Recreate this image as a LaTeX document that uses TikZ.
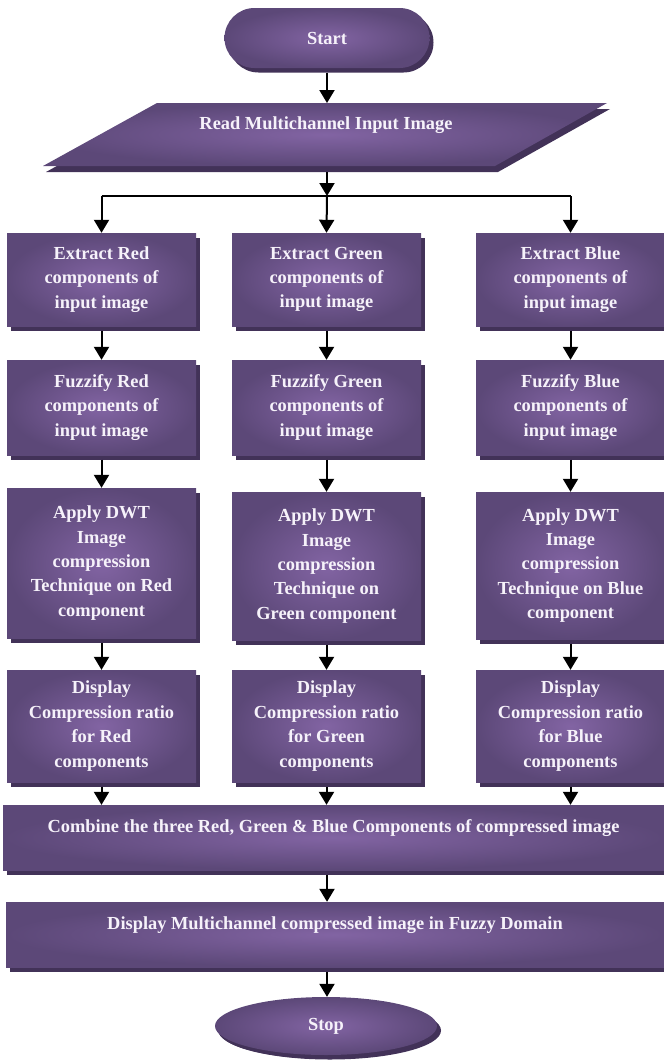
\documentclass[tikz,border=0pt]{standalone}
\usepackage{fontspec}
\setmainfont{Liberation Serif}
\usetikzlibrary{shapes.geometric,shadows,arrows.meta}

\definecolor{boxin}{RGB}{130,100,163}
\definecolor{boxout}{RGB}{92,72,120}
\definecolor{boxshade}{RGB}{66,50,88}
\definecolor{boxtext}{RGB}{246,242,250}

\tikzset{
  label font/.style={text=boxtext, align=center, font=\bfseries\fontsize{18.4}{24.4}\selectfont},
  base/.style={inner color=boxin, outer color=boxout, label font,
    drop shadow={shadow xshift=4pt, shadow yshift=-4.5pt, fill=boxshade, opacity=1}},
  process/.style={base, rectangle, minimum width=189pt},
  wide/.style={base, rectangle, minimum height=65pt, text height=13pt, text depth=24pt},
  terminal/.style={base, rectangle, rounded corners=30pt, minimum width=205pt, minimum height=60pt},
  io/.style={inner color=boxin, outer color=boxout,
    drop shadow={shadow xshift=3pt, shadow yshift=-6pt, fill=boxshade, opacity=1}},
  arr/.style={line width=2pt, -{Triangle[width=15pt,length=13pt]}},
  gap/.style={shorten <=4.5pt}
}

\begin{document}
\begin{tikzpicture}[x=1pt,y=-1pt]
\useasboundingbox (0,0) rectangle (664,1061);

\node[terminal] (start) at (327,38) {Start};

% input parallelogram
\coordinate (rdBL) at (43,166);
\coordinate (rdTL) at (157,103);
\coordinate (rdTR) at (607,103);
\coordinate (rdBR) at (495,166);
\path[io] (rdBL) -- (rdTL) -- (rdTR) -- (rdBR) -- cycle;
\node[label font] (read) at (326,125) {Read Multichannel Input Image};
\coordinate (split) at (327,196);

% red column
\node[process, minimum height=93pt] (extR) at (101.5,279.5) {Extract Red\\components of\\input image};
\node[process, minimum height=95pt] (fuzR) at (101.5,407.5) {Fuzzify Red\\components of\\input image};
\node[process, minimum height=150pt] (dwtR) at (101.5,563) {Apply DWT\\Image\\compression\\Technique on Red\\component};
\node[process, minimum height=112pt] (ratR) at (101.5,726) {Display\\Compression ratio\\for Red\\components};

% green column
\node[process, minimum height=93pt] (extG) at (326.5,279.5) {Extract Green\\components of\\input image};
\node[process, minimum height=95pt] (fuzG) at (326.5,407.5) {Fuzzify Green\\components of\\input image};
\node[process, minimum height=148pt] (dwtG) at (326.5,566) {Apply DWT\\Image\\compression\\Technique on\\Green component};
\node[process, minimum height=112pt] (ratG) at (326.5,726) {Display\\Compression ratio\\for Green\\components};

% blue column
\node[process, minimum height=93pt] (extB) at (570.5,279.5) {Extract Blue\\components of\\input image};
\node[process, minimum height=95pt] (fuzB) at (570.5,407.5) {Fuzzify Blue\\components of\\input image};
\node[process, minimum height=147pt] (dwtB) at (570.5,565.5) {Apply DWT\\Image\\compression\\Technique on Blue\\component};
\node[process, minimum height=112pt] (ratB) at (570.5,726) {Display\\Compression ratio\\for Blue\\components};

\node[wide, minimum width=661pt] (combine) at (333.5,837.5) {Combine the three Red, Green \& Blue Components of compressed image};
\node[wide, minimum width=658pt] (display) at (335,934.5) {Display Multichannel compressed image in Fuzzy Domain};
\node[base, ellipse, minimum width=222pt, minimum height=58pt, inner sep=0pt,
  drop shadow={shadow xshift=3pt, shadow yshift=-4pt, fill=boxshade, opacity=1}] (stop) at (326,1026) {Stop};

% connectors
\draw[arr, gap] (start.south) -- (start.south |- rdTL);
\draw[arr, shorten <=6pt] (split |- rdBL) -- (split);
\draw[line width=2pt] (split -| extR) -- (split -| extB);
\draw[arr] (split -| extR) -- (extR.north);
\draw[arr] (split) -- (extG.north);
\draw[arr] (split -| extB) -- (extB.north);

\draw[arr, gap] (extR.south) -- (fuzR.north);
\draw[arr, gap] (fuzR.south) -- (dwtR.north);
\draw[arr, gap] (dwtR.south) -- (ratR.north);
\draw[arr, gap] (ratR.south) -- (ratR.south |- combine.north);

\draw[arr, gap] (extG.south) -- (fuzG.north);
\draw[arr, gap] (fuzG.south) -- (dwtG.north);
\draw[arr, gap] (dwtG.south) -- (ratG.north);
\draw[arr, gap] (ratG.south) -- (ratG.south |- combine.north);

\draw[arr, gap] (extB.south) -- (fuzB.north);
\draw[arr, gap] (fuzB.south) -- (dwtB.north);
\draw[arr, gap] (dwtB.south) -- (ratB.north);
\draw[arr, gap] (ratB.south) -- (ratB.south |- combine.north);

\draw[arr, gap] (combine.south -| split) -- (display.north -| split);
\draw[arr, gap] (display.south -| split) -- (stop.north -| split);
\end{tikzpicture}
\end{document}
